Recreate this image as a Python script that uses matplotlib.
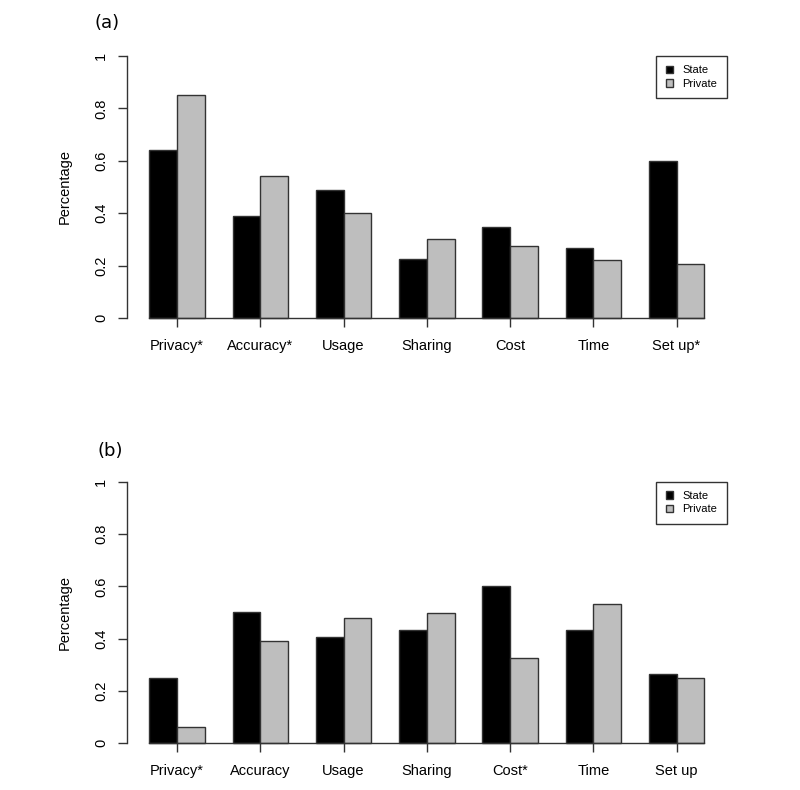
import matplotlib
matplotlib.use("Agg")
import matplotlib.pyplot as plt
import numpy as np

categories_a = ["Privacy*", "Accuracy*", "Usage", "Sharing", "Cost", "Time", "Set up*"]
state_a = [0.640, 0.391, 0.487, 0.224, 0.349, 0.266, 0.598]
private_a = [0.850, 0.541, 0.400, 0.303, 0.275, 0.223, 0.205]

categories_b = ["Privacy*", "Accuracy", "Usage", "Sharing", "Cost*", "Time", "Set up"]
state_b = [0.251, 0.501, 0.405, 0.432, 0.600, 0.432, 0.265]
private_b = [0.062, 0.390, 0.478, 0.497, 0.327, 0.532, 0.248]

y_ticks = [0, 0.2, 0.4, 0.6, 0.8, 1]
y_ticklabels = ["0", "0.2", "0.4", "0.6", "0.8", "1"]
series_names = ["State", "Private"]
panel_labels = ["(a)", "(b)"]

plt.rcParams['font.family'] = ['Liberation Sans', 'DejaVu Sans']

fig = plt.figure(figsize=(8.0, 7.9), dpi=100)
W, H = 800, 790

def make_axes(top_px, bottom_px, left_px=127.1, right_px=726.5):
    return fig.add_axes([left_px / W, 1 - bottom_px / H,
                         (right_px - left_px) / W, (bottom_px - top_px) / H])

ax_a = make_axes(45.5, 328.5)
ax_b = make_axes(471.2, 753.8)

edge = '#333333'
fs = 10.5

def draw(ax, cats, s, p):
    n = len(cats)
    idx = np.arange(n)
    left_state = 1 + 3 * idx
    ax.bar(left_state, s, width=1, align='edge', color='black', edgecolor=edge, linewidth=1, label=series_names[0])
    ax.bar(left_state + 1, p, width=1, align='edge', color='#BEBEBE', edgecolor=edge, linewidth=1, label=series_names[1])
    ax.set_xlim(0.2, 3 * n + 0.8)
    ax.set_ylim(-0.04, 1.04)
    for sp in ['top', 'right']:
        ax.spines[sp].set_visible(False)
    ax.spines['bottom'].set_position(('data', 0))
    ax.spines['bottom'].set_bounds(1, 3 * n)
    ax.spines['left'].set_bounds(0, 1)
    for sp in ['bottom', 'left']:
        ax.spines[sp].set_color(edge)
        ax.spines[sp].set_linewidth(1)
    ax.set_xticks(left_state + 1)
    ax.set_xticklabels(cats, fontsize=fs)
    ax.set_yticks(y_ticks)
    ax.set_yticklabels(y_ticklabels, fontsize=fs, rotation=90, va='center')
    ax.tick_params(axis='x', length=6.5, width=1, color=edge, pad=8.5)
    ax.tick_params(axis='y', length=6.5, width=1, color=edge, pad=7)
    ax.set_ylabel("Percentage", fontsize=fs)
    ax.yaxis.set_label_coords(-0.093, 0.5)
    ax.set_zorder(1)
    leg = ax.legend(loc='upper right', bbox_to_anchor=(1.0, 1.04 / 1.08), borderaxespad=0,
                    fancybox=False, edgecolor=edge, fontsize=8, handlelength=0.7,
                    handleheight=0.7, handletextpad=0.8, borderpad=0.85, labelspacing=0.3,
                    framealpha=1)
    leg.get_frame().set_linewidth(1)

draw(ax_a, categories_a, state_a, private_a)
draw(ax_b, categories_b, state_b, private_b)

fig.text(106.7 / W, 1 - 23 / H, panel_labels[0], fontsize=13, family='DejaVu Sans', ha='center', va='center')
fig.text(110.7 / W, 1 - 450.7 / H, panel_labels[1], fontsize=13, family='DejaVu Sans', ha='center', va='center')

fig.savefig("out.png", dpi=100)
